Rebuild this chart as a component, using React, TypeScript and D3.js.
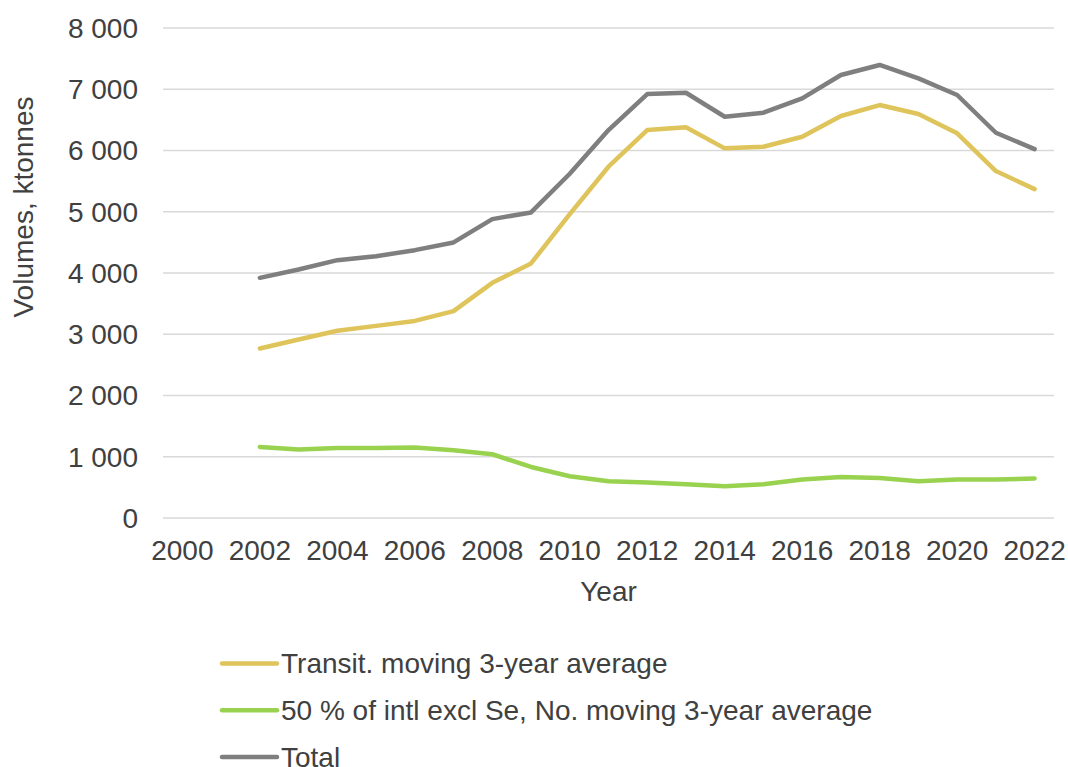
import React from "react";
import * as d3 from "d3";

const years: number[] = d3.range(2000, 2023);
const tickYears: number[] = d3.range(2000, 2023, 2);
const yTicks: number[] = [0, 1000, 2000, 3000, 4000, 5000, 6000, 7000, 8000];

// Series start in 2002
const seriesYears: number[] = d3.range(2002, 2023);
const transit: number[] = [
  2767, 2915, 3056, 3137, 3218, 3377, 3839, 4156, 4960, 5735, 6334,
  6378, 6035, 6061, 6225, 6563, 6742, 6595, 6280, 5664, 5370,
];
const intl: number[] = [
  1160, 1117, 1144, 1144, 1150, 1106, 1041, 833, 681, 600, 578,
  551, 518, 551, 627, 670, 654, 600, 627, 627, 644,
];
const total: number[] = [
  3921, 4058, 4210, 4275, 4373, 4499, 4880, 4989, 5620, 6333, 6922,
  6943, 6551, 6617, 6852, 7232, 7396, 7178, 6906, 6290, 6023,
];

const seriesNames: string[] = [
  "Transit. moving 3-year average",
  "50 % of intl excl Se, No. moving 3-year average",
  "Total",
];
const seriesColors: string[] = ["#DEC45A", "#99D24F", "#7F7F7F"];

const W = 1068;
const H = 767;
const plot = { left: 163, right: 1054, top: 28, bottom: 518 };
const font = "'Liberation Sans', Arial, sans-serif";
const textColor = "#404040";
const fs = 28;

export default function App() {
  const x = d3
    .scaleBand<number>()
    .domain(years)
    .range([plot.left, plot.right]);
  const xc = (yr: number) => (x(yr) as number) + x.bandwidth() / 2;
  const y = d3.scaleLinear().domain([0, 8000]).range([plot.bottom, plot.top]);

  const line = d3
    .line<number>()
    .x((_, i) => xc(seriesYears[i]))
    .y((v) => y(v));

  const data = [transit, intl, total];

  return (
    <svg
      width={W}
      height={H}
      style={{ position: "absolute", left: 0, top: 0, background: "#fff" }}
      fontFamily={font}
    >
      {yTicks.map((t) => (
        <g key={t}>
          <line
            x1={plot.left}
            x2={plot.right}
            y1={y(t)}
            y2={y(t)}
            stroke="#D9D9D9"
            strokeWidth={1.5}
          />
          <text
            x={138}
            y={y(t)}
            dy="0.35em"
            textAnchor="end"
            fontSize={fs}
            fill={textColor}
          >
            {d3.format(",")(t).replace(/,/g, " ")}
          </text>
        </g>
      ))}
      {tickYears.map((yr) => (
        <text
          key={yr}
          x={xc(yr)}
          y={560}
          textAnchor="middle"
          fontSize={fs}
          fill={textColor}
        >
          {yr}
        </text>
      ))}
      <text
        x={(plot.left + plot.right) / 2}
        y={601}
        textAnchor="middle"
        fontSize={fs}
        fill={textColor}
      >
        Year
      </text>
      <text
        transform={`translate(33,207) rotate(-90)`}
        textAnchor="middle"
        fontSize={fs}
        fill={textColor}
      >
        Volumes, ktonnes
      </text>
      {data.map((d, i) => (
        <path
          key={i}
          d={line(d) as string}
          fill="none"
          stroke={seriesColors[i]}
          strokeWidth={4.5}
          strokeLinecap="round"
          strokeLinejoin="round"
        />
      ))}
      {seriesNames.map((name, i) => {
        const ly = 663.5 + i * 46.7;
        return (
          <g key={name}>
            <line
              x1={222}
              x2={277}
              y1={ly}
              y2={ly}
              stroke={seriesColors[i]}
              strokeWidth={4.5}
              strokeLinecap="round"
            />
            <text
              x={281}
              y={ly}
              dy="0.35em"
              fontSize={fs}
              fill={textColor}
            >
              {name}
            </text>
          </g>
        );
      })}
    </svg>
  );
}
